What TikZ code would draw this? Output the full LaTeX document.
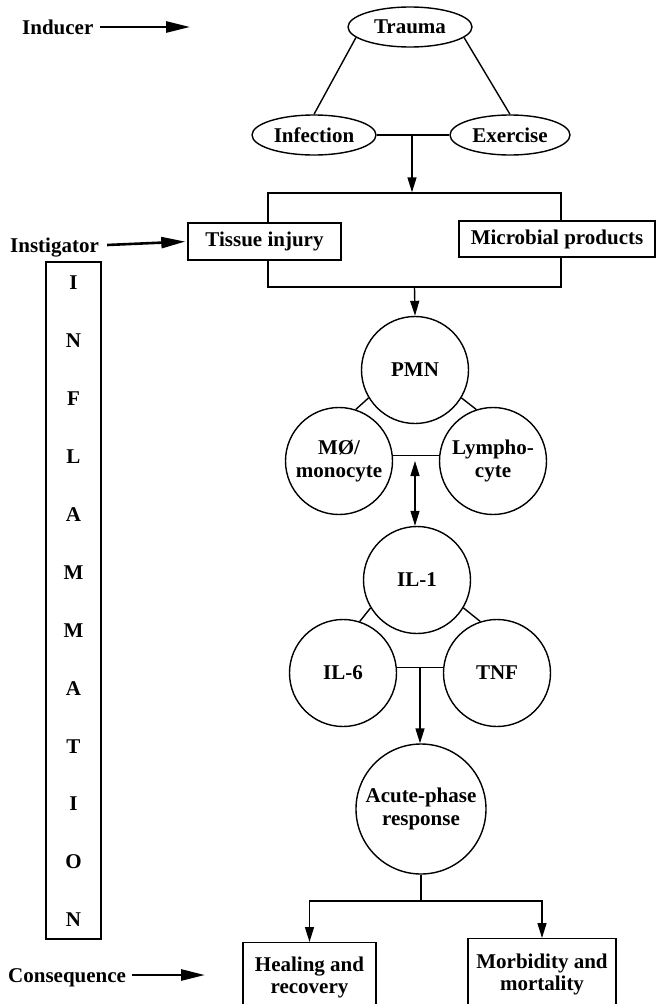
\documentclass[tikz,border=0pt]{standalone}
\usepackage{fontspec}
\setmainfont{Liberation Serif}
\usetikzlibrary{arrows.meta,shapes.geometric}
\begin{document}
\begin{tikzpicture}[x=1pt,y=-1pt,
  every node/.style={font=\fontsize{21}{22.5}\selectfont\bfseries},
  line/.style={line width=1.4pt},
  arr/.style={line width=1.4pt,-{Triangle[length=15pt,width=9pt]}},
  darr/.style={line width=1.4pt,{Triangle[length=15pt,width=9pt]}-{Triangle[length=15pt,width=9pt]}},
  bigarr/.style={line width=2.6pt,-{Triangle[length=24pt,width=11pt]}},
  oval/.style={ellipse,draw,line width=1.4pt,inner sep=0pt,minimum width=124pt,minimum height=40pt},
  cell/.style={circle,draw,line width=1.4pt,inner sep=0pt,minimum size=107pt,align=center},
  box/.style={rectangle,draw,line width=1.4pt,fill=white,inner sep=0pt,align=center},
  lab/.style={anchor=base west,inner sep=0pt}
]
\useasboundingbox (0,0) rectangle (656,1004);

% inducer level
\node[oval] (trauma) at (410,27) {Trauma};
\node[oval] (infection) at (314,135) {Infection};
\node[oval,minimum width=120pt] (exercise) at (510,135) {Exercise};
\draw[line] (trauma.191) -- (infection.north);
\draw[line] (trauma.349) -- (exercise.north);
\draw[line] (infection.east) -- (exercise.west);
\coordinate (j1) at (412,135);

% instigator level
\node[draw,line width=1.4pt,minimum width=293pt,minimum height=94pt,inner sep=0pt] (frame) at (414.5,240) {};
\draw[arr] (j1) -- (j1 |- frame.north);
\node[box,minimum width=153pt,minimum height=37pt] (tissue) at (264.5,241.5) {Tissue injury};
\node[box,minimum width=196pt,minimum height=36pt] (microbial) at (557,239) {Microbial products};

% cells
\node[cell] (pmn) at (415,370) {PMN};
\node[cell] (mo) at (339,461) {MØ/\\monocyte};
\node[cell] (lympho) at (493,461) {Lympho-\\cyte};
\draw[arr] (frame.south) -- (pmn.north);
\draw[line] (pmn.211) -- (mo.72);
\draw[line] (pmn.329) -- (lympho.108);
\draw[line] (mo.6) -- (lympho.174);
\coordinate (j2) at (415,461);

% cytokines
\node[cell] (il1) at (417,580) {IL-1};
\node[cell] (il6) at (343,673) {IL-6};
\node[cell] (tnf) at (497,673) {TNF};
\draw[darr] (j2) -- (j2 |- il1.north);
\draw[line] (il1.211) -- (il6.72);
\draw[line] (il1.329) -- (tnf.108);
\draw[line] (il6.6) -- (tnf.174);
\coordinate (j3) at (420,667);

% acute phase
\node[cell,minimum size=130pt] (acute) at (421,809) {Acute-phase\\response};
\draw[arr] (j3) -- (j3 |- acute.north);
\coordinate (j4) at (421,901);
\draw[line] (acute.south) -- (j4);

% consequences
\node[box,anchor=north,minimum width=133pt,minimum height=70pt] (heal) at (309.5,942) {Healing and\\recovery};
\node[box,anchor=north,minimum width=148pt,minimum height=72pt] (morb) at (542,938) {Morbidity and\\mortality};
\draw[arr] (j4) -| (heal.north);
\draw[arr] (j4) -| (morb.north);

% left labels
\node[lab] (inducer) at (22,34) {Inducer};
\coordinate (indtip) at (190,27);
\draw[bigarr] ([shift={(6pt,7pt)}]inducer.base east) -- (indtip);
\node[lab] (instigator) at (10,252) {Instigator};
\draw[bigarr,shorten >=2pt] ([shift={(8pt,7pt)}]instigator.base east) -- (tissue.west);
\node[lab] (consequence) at (8,982) {Consequence};
\coordinate (constip) at (205,975);
\draw[bigarr] ([shift={(6pt,7pt)}]consequence.base east) -- (constip);

% INFLAMMATION column
\node[draw,line width=1.4pt,minimum width=55pt,minimum height=677pt,inner sep=0pt] (inflbox) at (73.5,600.5) {};
\foreach \l [count=\i from 0] in {I,N,F,L,A,M,M,A,T,I,O,N}
  \node (L\i) at (73.5,{283+57.9*\i}) {\l};
\end{tikzpicture}
\end{document}
